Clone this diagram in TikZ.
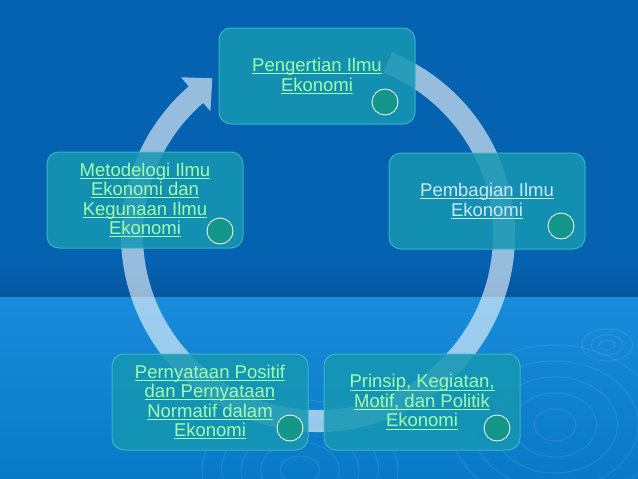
\documentclass[tikz,border=0pt]{standalone}
\usepackage{fontspec}
\setmainfont{Liberation Sans}
\usetikzlibrary{positioning}
\definecolor{bgtop}{HTML}{0562B0}
\definecolor{bgband}{HTML}{0656A0}
\definecolor{bgbottom}{HTML}{0A84D8}
\definecolor{boxfill}{HTML}{1597B2}
\definecolor{boxline}{HTML}{3DB8CC}
\definecolor{dotfill}{HTML}{14978A}
\definecolor{linkgreen}{HTML}{A0FFA8}
\definecolor{linkblue}{HTML}{CDE8F8}
\newcommand{\lnk}[1]{\setbox0\hbox{#1}\rlap{\rule[-2.6pt]{\wd0}{0.9pt}}\box0}
\tikzset{
    topic/.style={rectangle, rounded corners=12pt, minimum width=196pt, minimum height=96pt, text centered, align=center, draw=boxline, line width=1pt, fill=boxfill, fill opacity=0.85, draw opacity=0.9, text opacity=1, text=linkgreen, font=\fontsize{18.5}{19.5}\selectfont},
    marker/.style={circle, minimum size=26pt, inner sep=0pt, draw=white, line width=0.8pt, fill=dotfill},
    cyclearrow/.style={fill=white, fill opacity=0.58},
    ripple/.style={draw=white, draw opacity=0.08, line width=1.2pt}
}

\begin{document}
\begin{tikzpicture}[x=1pt, y=-1pt]
    \useasboundingbox (0,0) rectangle (638,479);
    % background
    \fill[bgtop] (0,0) rectangle (638,297);
    \shade[top color=bgtop, bottom color=bgband] (0,262) rectangle (638,297);
    \shade[top color=bgbottom!94!white, bottom color=bgbottom!92!black] (0,297) rectangle (638,479);
    \begin{scope}
        \clip (0,297) rectangle (638,479);
        \foreach \r in {14,28,42,56,70} \draw[ripple] (300,470) ellipse ({1.4*\r pt} and {\r pt});
        \foreach \r in {16,32,48,64,80} \draw[ripple] (555,425) ellipse ({1.3*\r pt} and {\r pt});
        \foreach \r in {5,10,16} \draw[ripple] (607,345) ellipse ({1.6*\r pt} and {\r pt});
    \end{scope}

    % circular arrow
    \begin{scope}[shift={(318,235)}, yscale=-1]
        \fill[cyclearrow] (68:197) arc[start angle=68, end angle=-229, radius=197] -- (-229:209) -- (-236:189) -- (-229:164) -- (-229:175) arc[start angle=-229, end angle=68, radius=175] -- cycle;
    \end{scope}

    \node (pengertian) [topic] at (317,76) {\lnk{Pengertian Ilmu}\\\lnk{Ekonomi}};
    \node (pembagian) [topic, text=linkblue] at (487,201) {\lnk{Pembagian Ilmu}\\\lnk{Ekonomi}};
    \node (metodelogi) [topic] at (145,200) {\lnk{Metodelogi Ilmu}\\\lnk{Ekonomi dan}\\\lnk{Kegunaan Ilmu}\\\lnk{Ekonomi}};
    \node (pernyataan) [topic] at (210,402) {\lnk{Pernyataan Positif}\\\lnk{dan Pernyataan}\\\lnk{Normatif dalam}\\\lnk{Ekonomi}};
    \node (prinsip) [topic] at (422,402) {\lnk{Prinsip, Kegiatan,}\\\lnk{Motif, dan Politik}\\\lnk{Ekonomi}};

    \node (dotpengertian) [marker] at (385,102) {};
    \node (dotpembagian) [marker] at (561,226) {};
    \node (dotmetodelogi) [marker] at (220,231) {};
    \node (dotpernyataan) [marker] at (290,428) {};
    \node (dotprinsip) [marker] at (497,428) {};
\end{tikzpicture}
\end{document}
